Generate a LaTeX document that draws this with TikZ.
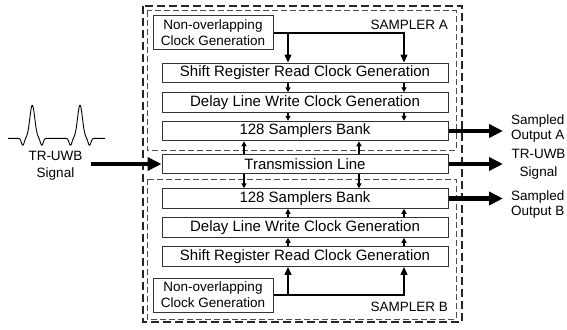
\documentclass[tikz,border=0pt]{standalone}
\usepackage{fontspec}
\setmainfont{Liberation Sans}
\usetikzlibrary{arrows.meta}
\begin{document}
\begin{tikzpicture}[x=1pt,y=-1pt,
  box/.style={draw=black!80, line width=1pt, minimum width=286pt, minimum height=19.5pt, inner sep=0pt, font=\fontsize{15}{17}\selectfont},
  nocbox/.style={draw=black!80, line width=1pt, minimum width=120pt, minimum height=34pt, inner sep=0pt, align=center, font=\fontsize{13.5}{16}\selectfont},
  lbl/.style={font=\fontsize{13.5}{15}\selectfont, inner sep=0pt},
  outerdash/.style={line width=1.6pt, dash pattern=on 8pt off 4pt, black!85},
  innerdash/.style={line width=1pt, dash pattern=on 6pt off 3pt, black!70},
  clk/.style={line width=2pt, -{Triangle[length=8pt,width=6.5pt]}},
  clkline/.style={line width=2pt},
  sm/.style={line width=1.3pt, -{Triangle[length=5pt,width=5pt]}},
  big/.style={line width=4.5pt, -{Triangle[length=14pt,width=13pt]}}
]
\useasboundingbox (0,0) rectangle (567,329);

% dashed enclosures
\draw[outerdash] (143,6) rectangle (462,322);
\draw[innerdash] (147,11) rectangle (456,150);
\draw[innerdash] (147,179) rectangle (456,319);

% sampler A
\node[nocbox] (nocA) at (213,33) {Non-overlapping\\Clock Generation};
\node[box] (srA) at (305,73) {Shift Register Read Clock Generation};
\node[box] (dlA) at (305,102.5) {Delay Line Write Clock Generation};
\node[box] (sbA) at (305,131) {128 Samplers Bank};
\node[lbl, anchor=east] (labA) at (448,25) {SAMPLER A};

% transmission line
\node[box] (tl) at (305,164) {Transmission Line};

% sampler B
\node[box] (sbB) at (305,198.5) {128 Samplers Bank};
\node[box] (dlB) at (305,227.5) {Delay Line Write Clock Generation};
\node[box] (srB) at (305,256.5) {Shift Register Read Clock Generation};
\node[nocbox] (nocB) at (213,295) {Non-overlapping\\Clock Generation};
\node[lbl, anchor=east] (labB) at (448,307) {SAMPLER B};

% column coordinates
\coordinate (a1) at (288,0);
\coordinate (a2) at (404,0);
\coordinate (b1) at (244,0);
\coordinate (b2) at (359,0);

% clock distribution A
\draw[clk] (nocA.east) -| (a2 |- srA.north);
\draw[clk] (a1 |- nocA.east) -- (a1 |- srA.north);
\draw[sm] (a1 |- srA.south) -- (a1 |- dlA.north);
\draw[sm] (a2 |- srA.south) -- (a2 |- dlA.north);
\draw[sm] (a1 |- dlA.south) -- (a1 |- sbA.north);
\draw[sm] (a2 |- dlA.south) -- (a2 |- sbA.north);

% clock distribution B
\draw[clk] (nocB.east) -| (a2 |- srB.south);
\draw[clk] (a1 |- nocB.east) -- (a1 |- srB.south);
\draw[sm] (a1 |- srB.north) -- (a1 |- dlB.south);
\draw[sm] (a2 |- srB.north) -- (a2 |- dlB.south);
\draw[sm] (a1 |- dlB.north) -- (a1 |- sbB.south);
\draw[sm] (a2 |- dlB.north) -- (a2 |- sbB.south);

% transmission line to banks
\draw[sm] (b1 |- tl.north) -- (b1 |- sbA.south);
\draw[sm] (b2 |- tl.north) -- (b2 |- sbA.south);
\draw[sm] (b1 |- tl.south) -- (b1 |- sbB.north);
\draw[sm] (b2 |- tl.south) -- (b2 |- sbB.north);

% input / outputs
\coordinate (inp) at (91,164);
\coordinate (outA) at (503,131);
\coordinate (outT) at (503,164);
\coordinate (outB) at (503,198.5);
\draw[big] (inp) -- (tl.west);
\draw[big] (sbA.east) -- (outA);
\draw[big] (tl.east) -- (outT);
\draw[big] (sbB.east) -- (outB);

\node[lbl, anchor=west, align=left] (tA) at (511,128.5) {Sampled\\Output A};
\node[lbl, anchor=center, align=center, font=\fontsize{13.5}{18}\selectfont] (tT) at (538.5,164) {TR-UWB\\Signal};
\node[lbl, anchor=west, align=left] (tB) at (511,205) {Sampled\\Output B};
\node[lbl, anchor=center, align=center, font=\fontsize{13.5}{17}\selectfont] (tIn) at (55.5,165.5) {TR-UWB\\Signal};

% waveform
\draw[line width=0.9pt, line join=round]
  (8,138.3) -- (18.3,138.3)
  plot[domain=-14:14, samples=81, smooth] ({32.3+\x}, {138.3-33*exp(0-(\x/3.5)*(\x/3.5))+7*exp(0-((abs(\x)-9.5)/2)*((abs(\x)-9.5)/2))})
  -- (66,138.3)
  plot[domain=-14:14, samples=81, smooth] ({80+\x}, {138.3-33*exp(0-(\x/3.5)*(\x/3.5))+7*exp(0-((abs(\x)-9.5)/2)*((abs(\x)-9.5)/2))})
  -- (105,138.3);
\end{tikzpicture}
\end{document}
